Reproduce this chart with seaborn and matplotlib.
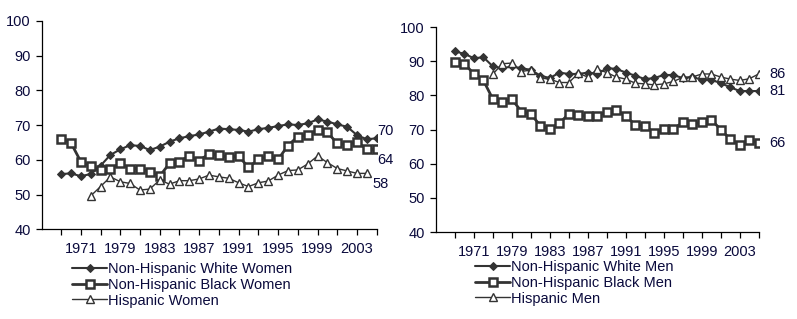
# Employment rates by race/ethnicity, women vs men (two panels)

import pandas as pd
import seaborn as sns
import matplotlib.pyplot as plt

# categories: biennial early years, annual from 1979
years = [1967, 1969, 1971, 1973, 1975, 1977] + list(range(1979, 2006))

women_white = [55.9, 56.1, 55.3, 55.9, 58.3, 61.4, 63.0, 64.2, 64.0, 62.8, 63.8,
               65.2, 66.2, 66.8, 67.3, 68.1, 69.0, 68.8, 68.6, 68.1, 68.8, 69.2,
               69.7, 70.2, 70.0, 70.5, 71.6, 71.0, 70.2, 69.5, 67.1, 65.9, 66.2]
women_black = [65.9, 64.9, 59.5, 58.2, 57.1, 57.4, 59.0, 57.5, 57.5, 56.6, 55.3,
               59.0, 59.5, 61.1, 59.8, 61.7, 61.4, 60.7, 61.1, 57.8, 60.1, 61.1,
               60.1, 64.1, 66.7, 67.1, 68.6, 67.9, 64.7, 64.4, 65.2, 63.0, 63.0]
# Hispanic women: from 1973 to 2004
women_hisp = [49.6, 52.3, 55.1, 53.7, 53.2, 51.3, 51.6, 54.2, 53.0, 54.0, 54.0,
              54.5, 55.6, 55.1, 54.7, 53.4, 52.3, 53.4, 53.9, 55.6, 56.9, 57.1,
              58.8, 61.1, 59.2, 57.5, 56.8, 56.1, 56.1]

men_white = [92.9, 92.2, 90.9, 91.2, 88.5, 88.0, 88.5, 88.0, 87.5, 85.8, 85.1,
             86.7, 86.3, 86.3, 86.7, 86.3, 88.0, 87.8, 86.7, 85.8, 84.8, 85.1,
             86.0, 86.0, 85.1, 85.4, 84.6, 84.6, 83.6, 82.4, 81.3, 81.3, 81.3]
men_black = [89.8, 89.3, 86.3, 84.4, 78.9, 78.2, 78.9, 75.3, 74.6, 71.1, 70.1,
             71.9, 74.6, 74.3, 73.9, 73.9, 75.3, 75.8, 73.9, 71.4, 71.2, 69.0,
             70.1, 70.2, 72.1, 71.7, 72.1, 72.9, 70.0, 67.2, 65.6, 67.0, 66.0]
# Hispanic men: from 1975 to 2005
men_hisp = [86.3, 89.3, 89.5, 87.0, 87.5, 85.1, 84.8, 83.8, 83.8, 86.5, 85.4,
            87.7, 86.7, 85.4, 84.8, 83.6, 83.4, 83.1, 83.4, 84.1, 85.3, 85.4,
            86.3, 86.3, 85.4, 84.8, 84.4, 84.9, 86.3]

women_labels = ['Non-Hispanic White Women', 'Non-Hispanic Black Women', 'Hispanic Women']
men_labels = ['Non-Hispanic White Men', 'Non-Hispanic Black Men', 'Hispanic Men']
women_end = ['70', '64', '58']
men_end = ['86', '81', '66']

sns.set_theme(style='white')
plt.rcParams['font.family'] = ['Liberation Sans', 'DejaVu Sans']

txt_col = '#0a0a3c'
line_col = '#333333'
fs = 10.5

fig = plt.figure(figsize=(7.97, 3.19), dpi=100)
ax1 = fig.add_axes([0.0527, 0.281, 0.420, 0.654])
ax2 = fig.add_axes([0.547, 0.2727, 0.405, 0.642])


def draw_panel(ax, white, black, hisp, labels, left, h0):
    idx = list(range(len(years)))
    sns.lineplot(x=idx, y=white, ax=ax, color=line_col, lw=1.5, marker='D',
                 markersize=4.5, markeredgecolor=line_col, markerfacecolor=line_col,
                 label=labels[0])
    sns.lineplot(x=idx, y=black, ax=ax, color=line_col, lw=2.0, marker='s',
                 markersize=5.5, markeredgewidth=1.8, markeredgecolor=line_col,
                 markerfacecolor='white', label=labels[1])
    sns.lineplot(x=idx[h0:h0 + len(hisp)], y=hisp, ax=ax, color=line_col, lw=1.0,
                 marker='^', markersize=5.5, markeredgewidth=1.0,
                 markeredgecolor=line_col, markerfacecolor='white', label=labels[2])
    ax.set_xlim(left, 32)
    ax.set_ylim(40, 100)
    ax.set_yticks(range(40, 101, 10))
    ax.set_xticks(range(0, 33, 2))
    ax.set_xticklabels([str(years[i]) if i % 4 == 2 else '' for i in range(0, 33, 2)])
    for s in ['top', 'right']:
        ax.spines[s].set_visible(False)
    for s in ['left', 'bottom']:
        ax.spines[s].set_color('black')
        ax.spines[s].set_linewidth(0.9)
    ax.tick_params(axis='both', direction='out', length=4, width=0.9, color='black',
                   labelsize=fs, labelcolor=txt_col, bottom=True, left=True)
    ax.tick_params(axis='x', pad=5)
    ax.tick_params(axis='y', pad=4)
    ax.set_xlabel('')
    ax.set_ylabel('')


draw_panel(ax1, women_white, women_black, women_hisp, women_labels, -1.93, 3)
draw_panel(ax2, men_white, men_black, men_hisp, men_labels, -2.0, 4)

# end labels
for (x, y), t in zip([(32.1, 68.3), (32.1, 59.9), (31.6, 53.0)], women_end):
    ax1.text(x, y, t, ha='left', va='center', fontsize=fs, color=txt_col, clip_on=False)
for (x, y), t in zip([(33.1, 86.3), (33.1, 81.3), (33.1, 66.1)], men_end):
    ax2.text(x, y, t, ha='left', va='center', fontsize=fs, color=txt_col, clip_on=False)

for ax, x0, y0 in [(ax1, 72 / 797, 1 - 262 / 319), (ax2, 475 / 797, 1 - 260 / 319)]:
    leg = ax.legend(loc='upper left', bbox_to_anchor=(x0, y0), bbox_transform=fig.transFigure,
                    frameon=False, fontsize=fs, handlelength=2.4, handletextpad=0.05,
                    labelspacing=0.12, borderpad=0, borderaxespad=0)
    for t in leg.get_texts():
        t.set_color(txt_col)

plt.savefig('out.png', dpi=100)
plt.close()
